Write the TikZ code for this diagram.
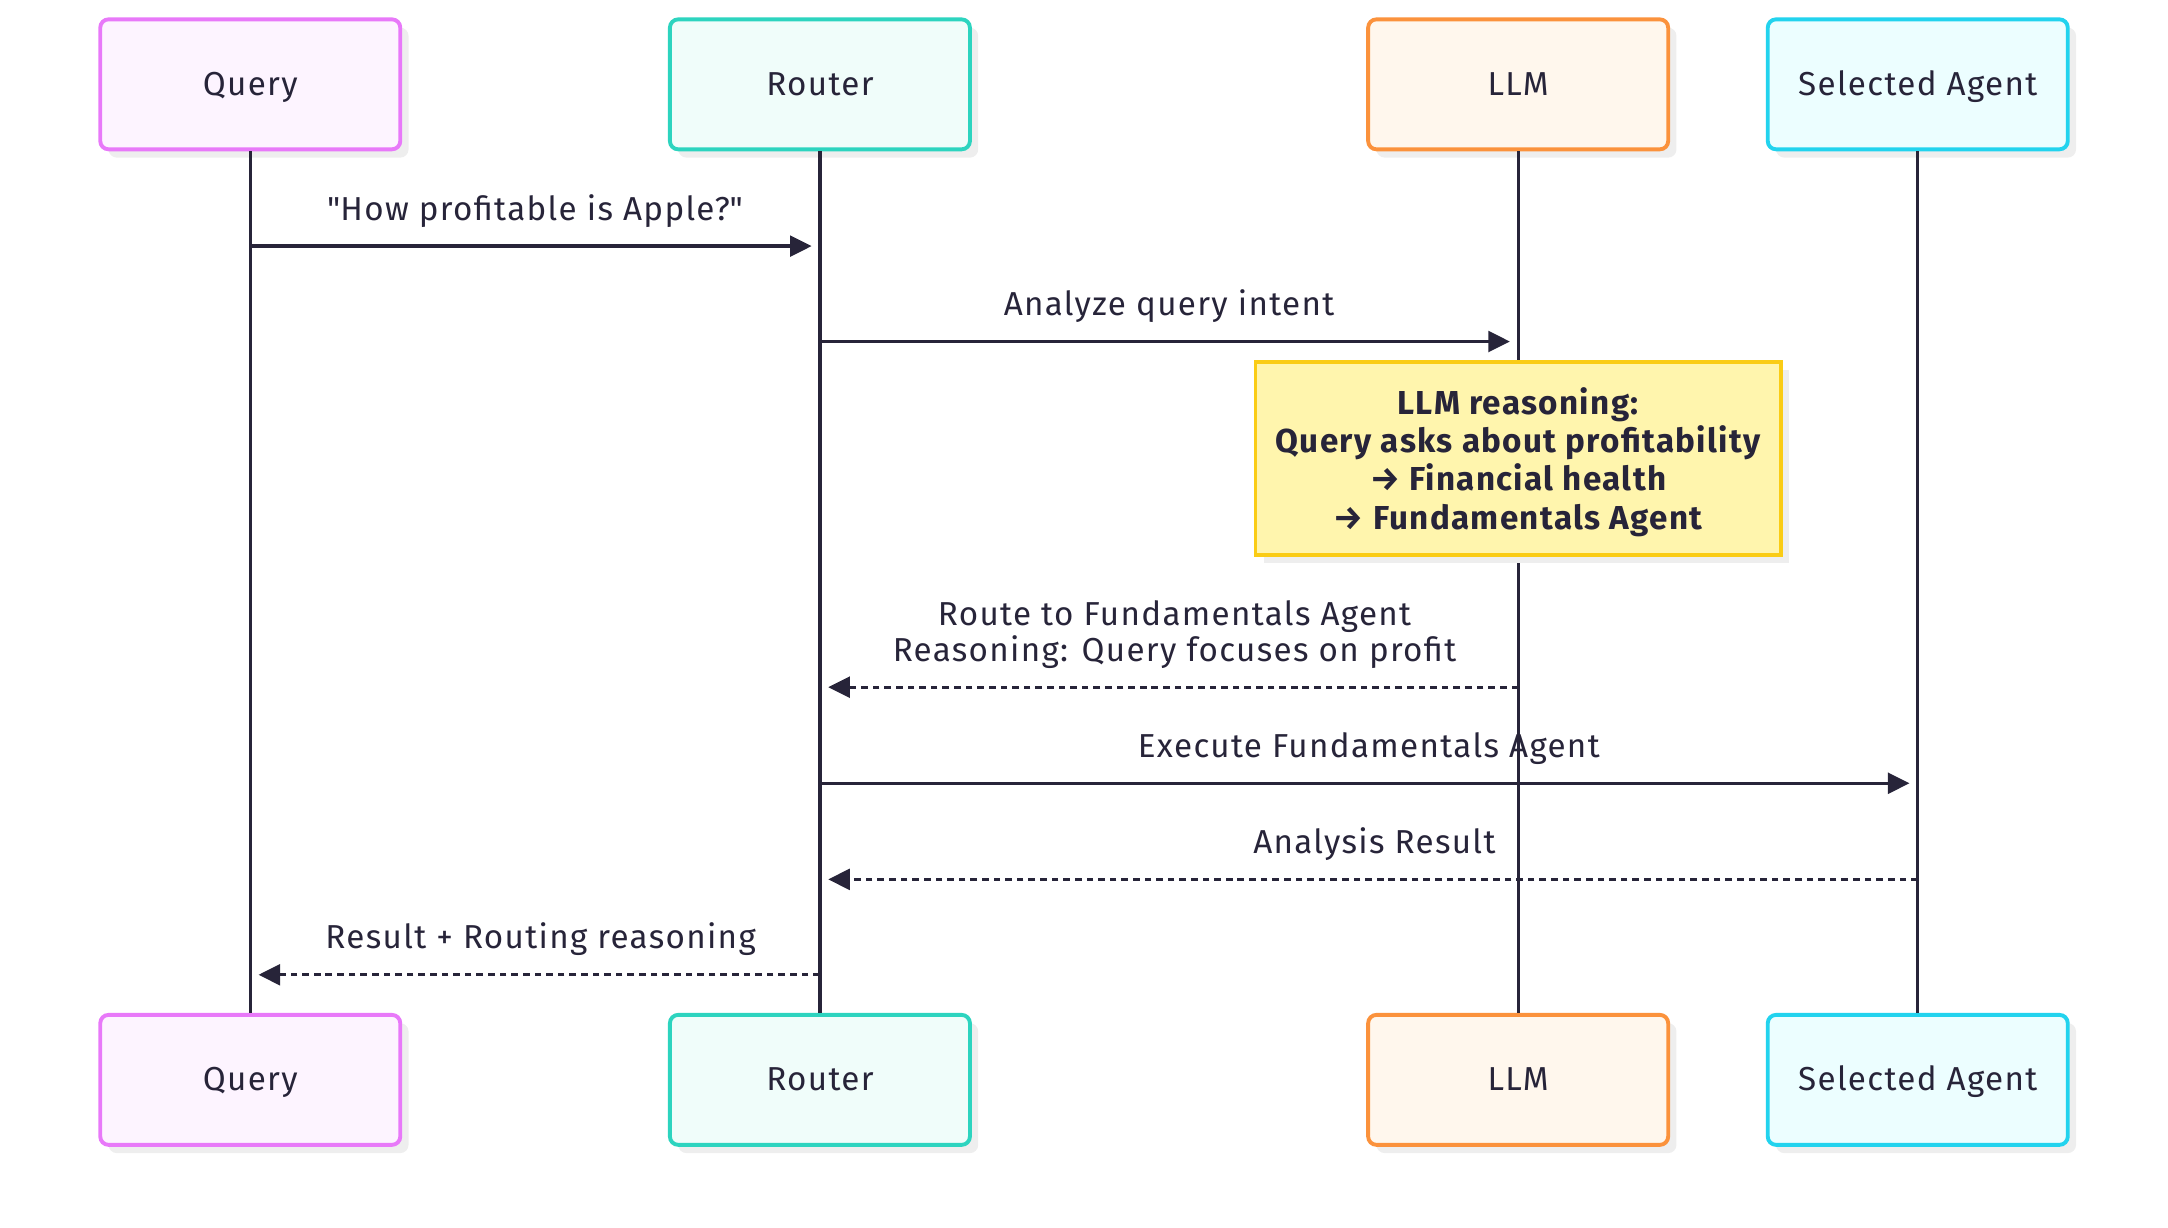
\documentclass[tikz,border=0pt]{standalone}
\usepackage{fontspec}
\setmainfont{Fira Sans}[LetterSpace=4]
\usetikzlibrary{arrows.meta,shadows}

\definecolor{ink}{HTML}{272439}
\definecolor{shade}{HTML}{EEEEEE}
\definecolor{queryline}{HTML}{E879F9}
\definecolor{queryfill}{HTML}{FDF4FF}
\definecolor{routerline}{HTML}{2DD4BF}
\definecolor{routerfill}{HTML}{F0FDFA}
\definecolor{llmline}{HTML}{FB923C}
\definecolor{llmfill}{HTML}{FFF7ED}
\definecolor{agentline}{HTML}{22D3EE}
\definecolor{agentfill}{HTML}{ECFEFF}
\definecolor{noteline}{HTML}{FACC15}
\definecolor{notefill}{HTML}{FFF5AD}

\begin{document}
\begin{tikzpicture}[x=0.5pt, y=-0.5pt,
    every node/.append style={font=\fontsize{12}{13}\selectfont, text=ink},
    actor/.style={draw, rounded corners=3pt, line width=1.4pt, minimum width=108.5pt, minimum height=47pt,
      text height=8pt, text depth=0pt,
      drop shadow={shadow xshift=3pt, shadow yshift=-3pt, fill=shade, opacity=1}},
    life/.style={draw=ink, line width=1.2pt},
    msg/.style={draw=ink, line width=1.2pt, -{Triangle[length=7.8pt, width=7.5pt]}, shorten >=3pt},
    reply/.style={msg, dash pattern=on 2.4pt off 1.8pt},
    lbl/.style={midway, anchor=south, inner sep=0pt, text depth=0pt, yshift=8.8pt, align=center},
    note/.style={draw=noteline, fill=notefill, line width=1.4pt, minimum width=190pt, minimum height=69.8pt,
      align=center, text depth=0pt, font=\fontsize{12}{13.85}\selectfont\bfseries,
      drop shadow={shadow xshift=3pt, shadow yshift=-3pt, fill=shade, opacity=1}}]
    \useasboundingbox (0,0) rectangle (1568,888);

    % 参加者（上）
    \node[actor, draw=queryline, fill=queryfill] (qT) at (181,61) {Query};
    \node[actor, draw=routerline, fill=routerfill] (rT) at (593,61) {Router};
    \node[actor, draw=llmline, fill=llmfill] (lT) at (1098,61) {LLM};
    \node[actor, draw=agentline, fill=agentfill] (aT) at (1387,61) {Selected Agent};

    % 参加者（下）
    \node[actor, draw=queryline, fill=queryfill] (qB) at (181,781) {Query};
    \node[actor, draw=routerline, fill=routerfill] (rB) at (593,781) {Router};
    \node[actor, draw=llmline, fill=llmfill] (lB) at (1098,781) {LLM};
    \node[actor, draw=agentline, fill=agentfill] (aB) at (1387,781) {Selected Agent};

    % ライフライン
    \draw[life] (qT) -- (qB);
    \draw[life] (rT) -- (rB);
    \draw[life] (lT) -- (lB);
    \draw[life] (aT) -- (aB);

    % メッセージの高さ
    \coordinate (m1) at (0,178);
    \coordinate (m2) at (0,247);
    \coordinate (m3) at (0,497);
    \coordinate (m4) at (0,566.5);
    \coordinate (m5) at (0,636);
    \coordinate (m6) at (0,705);

    % メッセージ
    \draw[msg] (qT |- m1) -- (rT |- m1) node[lbl] {\textquotedbl How profitable is Apple?\textquotedbl};
    \draw[msg] (rT |- m2) -- (lT |- m2) node[lbl] {Analyze query intent};
    \draw[reply] (lT |- m3) -- (rT |- m3) node[lbl, xshift=2pt] {Route to Fundamentals Agent\\Reasoning: Query focuses on profit};
    \draw[msg] (rT |- m4) -- (aT |- m4) node[lbl] {Execute Fundamentals Agent};
    \draw[reply] (aT |- m5) -- (rT |- m5) node[lbl, xshift=2pt] {Analysis Result};
    \draw[reply] (rT |- m6) -- (qT |- m6) node[lbl, xshift=2pt] {Result + Routing reasoning};

    % ノート
    \node[note] (nt) at (1098,331.4) {LLM reasoning:\\Query asks about profitability\\→ Financial health\\→ Fundamentals Agent};
\end{tikzpicture}
\end{document}
